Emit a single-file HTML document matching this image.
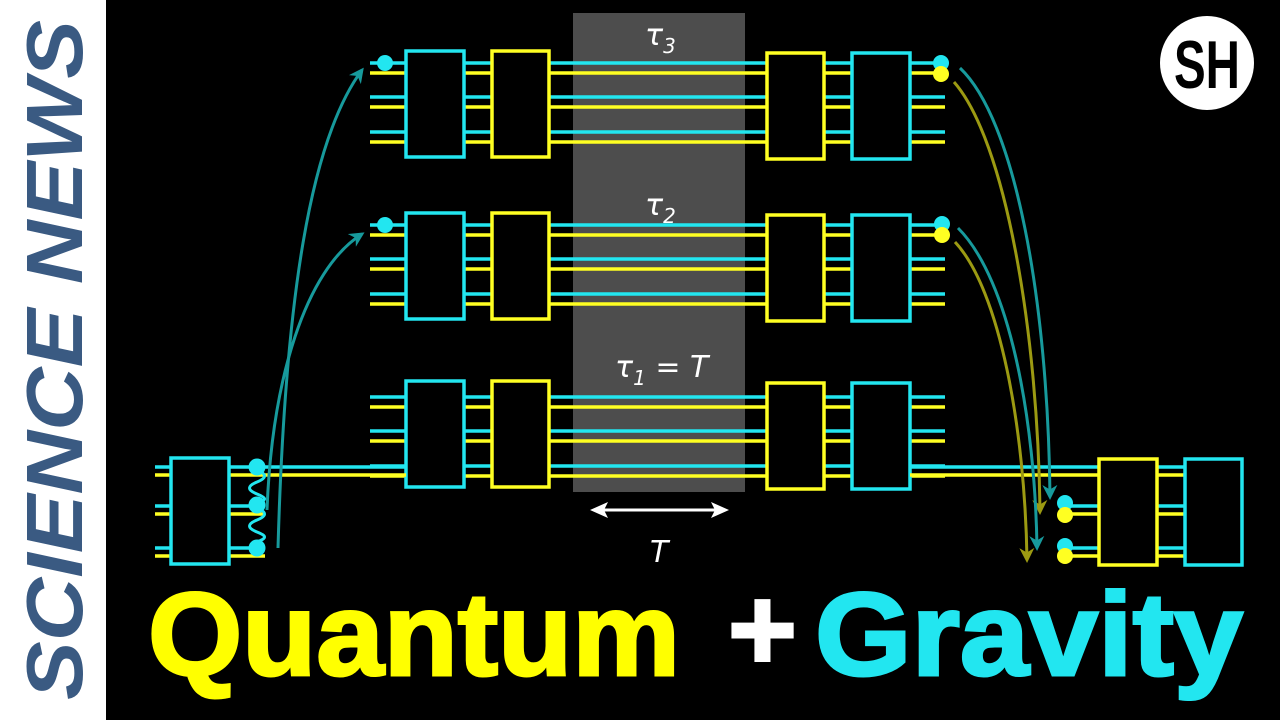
<!DOCTYPE html>
<html><head><meta charset="utf-8"><style>
html,body{margin:0;padding:0;background:#000;}
svg{display:block}
</style></head><body>
<svg width="1280" height="720" viewBox="0 0 1280 720" xmlns="http://www.w3.org/2000/svg">
<defs>
<marker id="at" viewBox="0 0 10 10" refX="8" refY="5" markerWidth="5" markerHeight="5" orient="auto"><path d="M0,0 L10,5 L0,10 L3,5 z" fill="#179a9c"/></marker>
<marker id="ao" viewBox="0 0 10 10" refX="8" refY="5" markerWidth="5" markerHeight="5" orient="auto"><path d="M0,0 L10,5 L0,10 L3,5 z" fill="#9c9a12"/></marker>
<g id="lines">
<g stroke-width="3.5">
<line x1="370" y1="63" x2="945" y2="63" stroke="#22e6f0"/>
<line x1="370" y1="73" x2="945" y2="73" stroke="#ffff22"/>
<line x1="370" y1="97" x2="945" y2="97" stroke="#22e6f0"/>
<line x1="370" y1="107" x2="945" y2="107" stroke="#ffff22"/>
<line x1="370" y1="132" x2="945" y2="132" stroke="#22e6f0"/>
<line x1="370" y1="142" x2="945" y2="142" stroke="#ffff22"/>
</g>
</g>
<g id="boxes" stroke-width="3.5" fill="#000">
<rect x="406" y="51" width="58" height="106" stroke="#22e6f0"/>
<rect x="492" y="51" width="57" height="106" stroke="#ffff22"/>
<rect x="767" y="53" width="57" height="106" stroke="#ffff22"/>
<rect x="852" y="53" width="58" height="106" stroke="#22e6f0"/>
</g>
</defs>
<rect width="1280" height="720" fill="#000"/>
<rect x="0" y="0" width="106" height="720" fill="#fff"/>
<text transform="translate(82,700) rotate(-90)" font-family="Liberation Sans, sans-serif" font-weight="bold" font-style="italic" font-size="80" fill="#3a5a82" textLength="680" lengthAdjust="spacingAndGlyphs">SCIENCE NEWS</text>

<rect x="573" y="13" width="172" height="479" fill="#4d4d4d"/>

<use href="#lines"/>
<use href="#lines" transform="translate(0,162)"/>
<use href="#lines" transform="translate(0,334)"/>
<use href="#boxes"/>
<use href="#boxes" transform="translate(0,162)"/>
<use href="#boxes" transform="translate(0,330)"/>

<g stroke-width="3.5">
<line x1="155" y1="467" x2="406" y2="467" stroke="#22e6f0"/>
<line x1="155" y1="475" x2="406" y2="475" stroke="#ffff22"/>
<line x1="155" y1="506" x2="265" y2="506" stroke="#22e6f0"/>
<line x1="155" y1="514" x2="265" y2="514" stroke="#ffff22"/>
<line x1="155" y1="548" x2="265" y2="548" stroke="#22e6f0"/>
<line x1="155" y1="556" x2="265" y2="556" stroke="#ffff22"/>
<line x1="910" y1="467" x2="1100" y2="467" stroke="#22e6f0"/>
<line x1="910" y1="475" x2="1100" y2="475" stroke="#ffff22"/>
<line x1="1065" y1="506" x2="1100" y2="506" stroke="#22e6f0"/>
<line x1="1065" y1="514" x2="1100" y2="514" stroke="#ffff22"/>
<line x1="1065" y1="548" x2="1100" y2="548" stroke="#22e6f0"/>
<line x1="1065" y1="556" x2="1100" y2="556" stroke="#ffff22"/>
<line x1="1157" y1="467" x2="1185" y2="467" stroke="#22e6f0"/>
<line x1="1157" y1="475" x2="1185" y2="475" stroke="#ffff22"/>
<line x1="1157" y1="506" x2="1185" y2="506" stroke="#22e6f0"/>
<line x1="1157" y1="514" x2="1185" y2="514" stroke="#ffff22"/>
<line x1="1157" y1="548" x2="1185" y2="548" stroke="#22e6f0"/>
<line x1="1157" y1="556" x2="1185" y2="556" stroke="#ffff22"/>
</g>
<g stroke-width="3.5" fill="#000">
<rect x="171" y="458" width="58" height="106" stroke="#22e6f0"/>
<rect x="1099" y="459" width="58" height="106" stroke="#ffff22"/>
<rect x="1185" y="459" width="57" height="106" stroke="#22e6f0"/>
</g>
<path d="M257,470 c10,4 10,8 0,12 c-10,4 -10,8 0,12 c10,4 10,6 0,9 M257,508 c10,4 10,8 0,12 c-10,4 -10,8 0,12 c10,4 10,6 0,10" stroke="#22e6f0" stroke-width="3" fill="none"/>
<g fill="#22e6f0">
<circle cx="257" cy="467" r="8.5"/><circle cx="257" cy="505" r="8.5"/><circle cx="257" cy="548" r="8.5"/>
<circle cx="385" cy="63" r="8"/><circle cx="385" cy="225" r="8"/>
<circle cx="941" cy="63" r="8"/><circle cx="942" cy="224" r="8"/>
<circle cx="1065" cy="503" r="8"/><circle cx="1065" cy="546" r="8"/>
</g>
<g fill="#ffff22">
<circle cx="941" cy="74" r="8"/><circle cx="942" cy="235" r="8"/>
<circle cx="1065" cy="515" r="8"/><circle cx="1065" cy="556" r="8"/>
</g>

<g fill="none" stroke-width="3">
<path d="M278,548 C285,300 310,140 362,70" stroke="#179a9c" marker-end="url(#at)"/>
<path d="M267,510 C272,380 305,270 362,234" stroke="#179a9c" marker-end="url(#at)"/>
<path d="M960,68 C1015,120 1048,300 1050,497" stroke="#179a9c" marker-end="url(#at)"/>
<path d="M954,82 C1005,140 1038,330 1040,512" stroke="#9c9a12" marker-end="url(#ao)"/>
<path d="M958,228 C1010,280 1035,420 1037,548" stroke="#179a9c" marker-end="url(#at)"/>
<path d="M955,242 C1000,290 1025,430 1027,560" stroke="#9c9a12" marker-end="url(#ao)"/>
<path d="M604,510 L715,510" stroke="#fff"/>
</g>
<path d="M590,510 l18,-8 l-4,8 l4,8 z M729,510 l-18,-8 l4,8 l-4,8 z" fill="#fff"/>

<g font-family="DejaVu Sans, sans-serif" font-style="italic" fill="#fff" font-size="30">
<text x="645" y="45">τ<tspan font-size="20" dy="8">3</tspan></text>
<text x="645" y="215">τ<tspan font-size="20" dy="8">2</tspan></text>
<text x="615" y="377">τ<tspan font-size="20" dy="8">1</tspan><tspan dy="-8" font-style="normal"> = </tspan>T</text>
<text x="650" y="562">T</text>
</g>

<circle cx="1207" cy="63" r="47" fill="#fff"/>
<text x="1207" y="88" text-anchor="middle" font-family="Liberation Sans, sans-serif" font-weight="bold" font-size="68" fill="#000" textLength="66" lengthAdjust="spacingAndGlyphs">SH</text>

<g font-family="Liberation Sans, sans-serif" font-weight="bold" font-size="118" stroke-width="3">
<text x="148" y="675" fill="#ffff00" stroke="#ffff00" textLength="532" lengthAdjust="spacingAndGlyphs">Quantum</text>
<text x="728" y="670" fill="#fff" stroke="#fff">+</text>
<text x="815" y="675" fill="#22e6f0" stroke="#22e6f0" textLength="428" lengthAdjust="spacingAndGlyphs">Gravity</text>
</g>
</svg>
</body></html>
